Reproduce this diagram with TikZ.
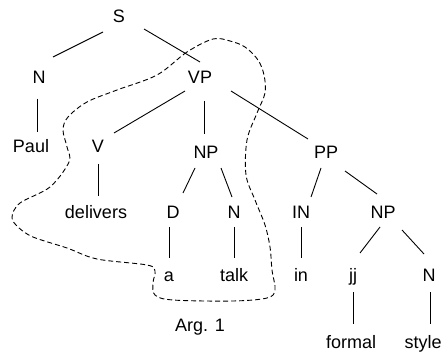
\documentclass[tikz,border=0pt]{standalone}
\usepackage{fontspec}
\setmainfont{Liberation Sans}
\begin{document}
\begin{tikzpicture}[x=1pt,y=-1pt,
  lbl/.style={anchor=base,inner sep=0pt,font=\fontsize{18}{21}\selectfont},
  edge/.style={line width=0.9pt},
  region/.style={line width=0.9pt,dash pattern=on 5pt off 3pt}]
\useasboundingbox (0,0) rectangle (443,355);
\node[lbl] (S) at (119,23) {S};
\node[lbl] (N1) at (39,84) {N};
\node[lbl] (VP) at (200,84) {VP};
\node[lbl] (Paul) at (31,153) {Paul};
\node[lbl] (V) at (98,153) {V};
\node[lbl] (NP1) at (206,158) {NP};
\node[lbl] (PP) at (326,158) {PP};
\node[lbl] (delivers) at (96,218) {delivers};
\node[lbl] (D) at (173,218) {D};
\node[lbl] (N2) at (234,218) {N};
\node[lbl] (IN) at (301,218) {IN};
\node[lbl] (NP2) at (383,218) {NP};
\node[lbl] (a) at (169,281) {a};
\node[lbl] (talk) at (234,281) {talk};
\node[lbl] (in) at (301,281) {in};
\node[lbl] (jj) at (353,281) {jj};
\node[lbl] (N3) at (429,281) {N};
\node[lbl] (formal) at (351,348) {formal};
\node[lbl] (style) at (423,348) {style};
\node[lbl] (arg) at (200,331) {Arg. 1};
\draw[edge] ([shift={(-16,9)}]S.base) -- ([shift={(14,-27)}]N1.base);
\draw[edge] ([shift={(25,6)}]S.base) -- ([shift={(0,-22)}]VP.base);
\draw[edge] ([shift={(-2,15)}]N1.base) -- ([shift={(6,-21)}]Paul.base);
\draw[edge] ([shift={(-15,7)}]VP.base) -- ([shift={(16,-20)}]V.base);
\draw[edge] ([shift={(4,17)}]VP.base) -- ([shift={(-2,-24)}]NP1.base);
\draw[edge] ([shift={(31,7)}]VP.base) -- ([shift={(-18,-19)}]PP.base);
\draw[edge] ([shift={(0,11)}]V.base) -- ([shift={(2,-22)}]delivers.base);
\draw[edge] ([shift={(-11,10)}]NP1.base) -- ([shift={(10,-25)}]D.base);
\draw[edge] ([shift={(15,10)}]NP1.base) -- ([shift={(-2,-21)}]N2.base);
\draw[edge] ([shift={(-5,10)}]PP.base) -- ([shift={(10,-21)}]IN.base);
\draw[edge] ([shift={(19,13)}]PP.base) -- ([shift={(-6,-24)}]NP2.base);
\draw[edge] ([shift={(-4,9)}]D.base) -- ([shift={(0,-23)}]a.base);
\draw[edge] ([shift={(0,9)}]N2.base) -- ([shift={(0,-23)}]talk.base);
\draw[edge] ([shift={(0,9)}]IN.base) -- ([shift={(0,-23)}]in.base);
\draw[edge] ([shift={(-3,9)}]NP2.base) -- ([shift={(7,-28)}]jj.base);
\draw[edge] ([shift={(19,12)}]NP2.base) -- ([shift={(-5,-27)}]N3.base);
\draw[edge] ([shift={(0,11)}]jj.base) -- ([shift={(2,-24)}]formal.base);
\draw[edge] ([shift={(1,11)}]N3.base) -- ([shift={(7,-24)}]style.base);
\draw[region] plot[smooth cycle,tension=0.55] coordinates {
 (213,39) (187,52) (157,75) (117,90) (87,102) (68,117) (63,130) (67,147)
 (69,162) (50,187) (20,203) (12,217) (18,227) (33,237) (67,248) (97,259)
 (147,265) (155,271) (153,283) (155,295) (173,300) (233,301) (267,298)
 (275,290) (272,270) (270,247) (265,225) (255,200) (246,175) (247,140)
 (257,113) (265,93) (264,75) (258,60) (245,47) (230,41)};
\end{tikzpicture}
\end{document}
